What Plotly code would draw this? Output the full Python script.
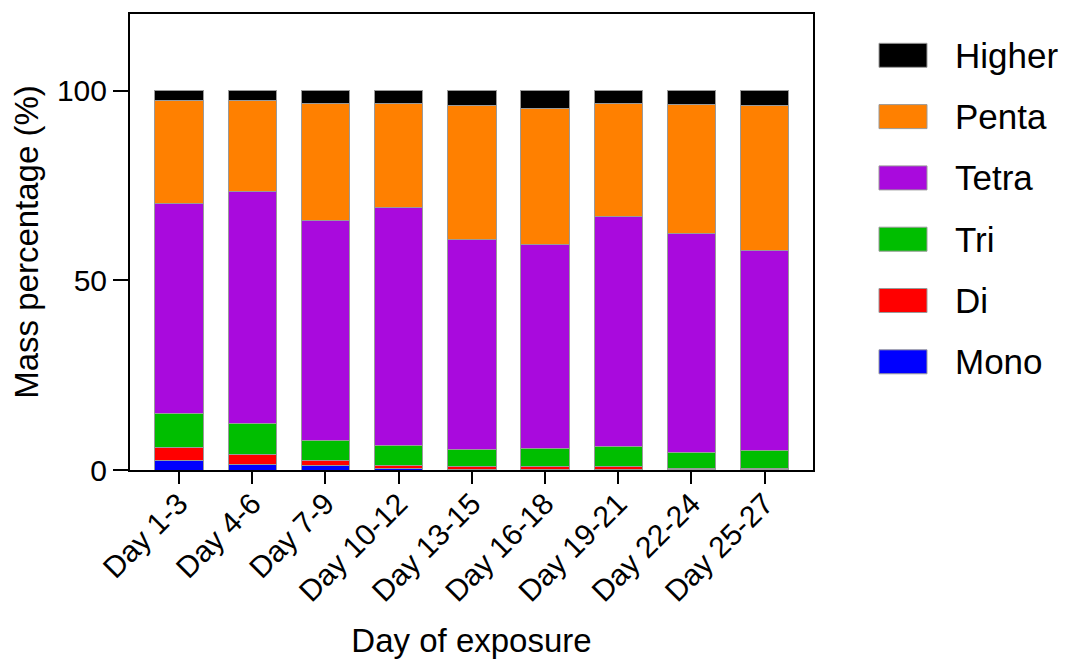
import plotly.graph_objects as go

categories = ["Day 1-3", "Day 4-6", "Day 7-9", "Day 10-12", "Day 13-15",
              "Day 16-18", "Day 19-21", "Day 22-24", "Day 25-27"]

mono = [2.4, 1.5, 1.1, 0.3, 0.2, 0.2, 0.2, 0.1, 0.1]
di = [3.5, 2.5, 1.5, 0.9, 0.8, 0.8, 0.8, 0.4, 0.4]
tri = [8.9, 8.4, 5.3, 5.3, 4.5, 4.8, 5.2, 4.2, 4.6]
tetra = [55.6, 61.0, 57.8, 62.8, 55.4, 53.6, 60.6, 57.6, 52.9]
penta = [27.2, 24.2, 30.9, 27.3, 35.3, 36.0, 30.0, 34.0, 38.1]
higher = [2.4, 2.4, 3.4, 3.4, 3.8, 4.6, 3.2, 3.7, 3.9]

series_names = ["Mono", "Di", "Tri", "Tetra", "Penta", "Higher"]
series_values = [mono, di, tri, tetra, penta, higher]
series_colors = ["#0000FF", "#FF0000", "#00BE00", "#A90ADD", "#FF8000", "#000000"]

FONT = "Arial, Liberation Sans, sans-serif"

fig = go.Figure()
for name, vals, col in zip(series_names, series_values, series_colors):
    fig.add_trace(go.Bar(
        x=categories, y=vals, name=name,
        marker=dict(color=col, line=dict(color="#9a9a9a", width=1)),
        showlegend=False,
    ))

# page offset of the browser (body margin)
OFF = 8
W, H = 1070 - OFF, 664 - OFF
L, R, T, B = 130 - OFF, 257, 14 - OFF, 194
pw, ph = W - L - R, H - T - B

def px_to_paper_x(px):
    return (px - OFF - L) / pw

def px_to_paper_y(py):
    return (H - B - (py - OFF)) / ph

shapes = []
annotations = []
for i, (name, col) in enumerate(zip(series_names[::-1], series_colors[::-1])):
    cy = 55.3 + 61.3 * i
    shapes.append(dict(
        type="rect", xref="paper", yref="paper",
        x0=px_to_paper_x(879), x1=px_to_paper_x(927),
        y0=px_to_paper_y(cy + 12), y1=px_to_paper_y(cy - 12),
        fillcolor=col, line=dict(color="#9a9a9a", width=1),
    ))
    annotations.append(dict(
        xref="paper", yref="paper", x=px_to_paper_x(953), y=px_to_paper_y(cy),
        text=name, showarrow=False, xanchor="left", yanchor="middle",
        font=dict(family=FONT, size=35, color="#000000"),
    ))

fig.update_layout(
    barmode="stack",
    bargap=0.34,
    width=W, height=H,
    margin=dict(l=L, r=R, t=T, b=B, autoexpand=False),
    paper_bgcolor="white", plot_bgcolor="white",
    font=dict(family=FONT, size=30, color="#000000"),
    shapes=shapes,
    annotations=annotations,
    xaxis=dict(
        range=[-0.67, 8.66],
        showline=True, linecolor="#000000", linewidth=2, mirror=True,
        ticks="outside", ticklen=12, tickwidth=2, tickcolor="#000000",
        tickangle=-45, tickfont=dict(family=FONT, size=30),
        ticklabelstandoff=-10,
        showgrid=False, zeroline=False, automargin=False,
        title=dict(text="Day of exposure", font=dict(family=FONT, size=33), standoff=22),
    ),
    yaxis=dict(
        range=[0, 120.3],
        tickvals=[0, 50, 100],
        showline=True, linecolor="#000000", linewidth=2, mirror=True,
        ticks="outside", ticklen=15, tickwidth=2, tickcolor="#000000",
        tickfont=dict(family=FONT, size=30),
        showgrid=False, zeroline=False, automargin=False,
        title=dict(text="Mass percentage (%)", font=dict(family=FONT, size=33), standoff=8),
    ),
)

fig.write_html("out.html")
